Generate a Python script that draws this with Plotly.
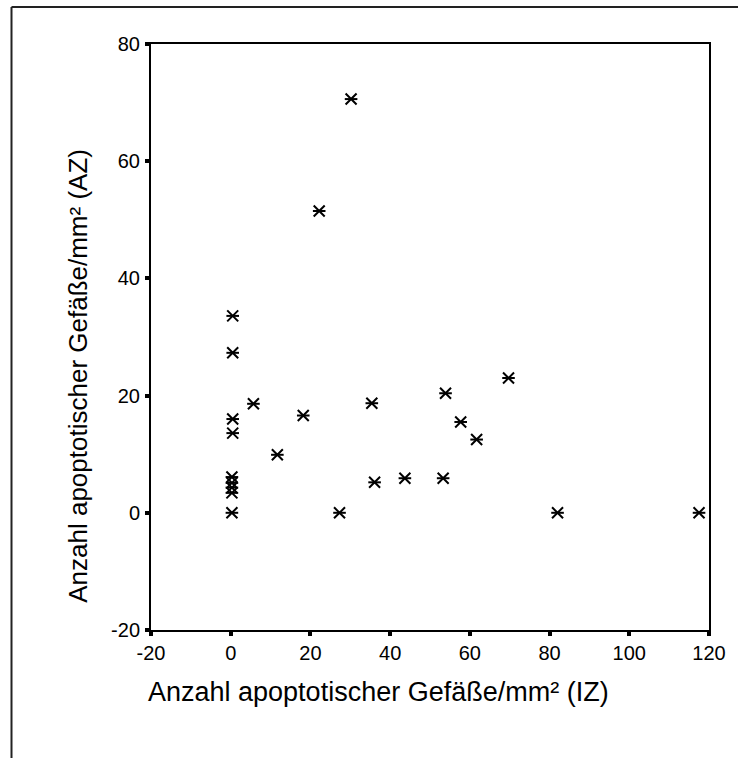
import plotly.graph_objects as go

# Apoptotic vessels per mm²: IZ (x) vs AZ (y)
iz = [30.2, 22.2, 0.5, 0.5, 0.5, 0.5, 5.7, 18.2, 11.7, 35.4, 53.9, 69.7,
      57.7, 61.7, 36.1, 43.7, 53.3, 27.3, 82.0, 117.5,
      0.3, 0.3, 0.3, 0.3, 0.3]
az = [70.6, 51.5, 33.6, 27.3, 16.0, 13.6, 18.6, 16.6, 9.9, 18.7, 20.4, 23.0,
      15.5, 12.5, 5.2, 5.9, 5.9, 0.0, 0.0, 0.0,
      6.1, 5.1, 4.3, 3.4, 0.0]

x_ticks = [-20, 0, 20, 40, 60, 80, 100, 120]
y_ticks = [-20, 0, 20, 40, 60, 80]
x_ticktext = ["-20", "0", "20", "40", "60", "80", "100", "120"]
y_ticktext = ["-20", "0", "20", "40", "60", "80"]

x_title = "Anzahl apoptotischer Gefäße/mm² (IZ)"
y_title = "Anzahl apoptotischer Gefäße/mm² (AZ)"

W, H = 738, 758
ML, MR, MT, MB = 151, 23, 44, 128
PW, PH = W - ML - MR, H - MT - MB

FONT = "Liberation Sans, Arial, sans-serif"

fig = go.Figure()
# six-spoke asterisk markers: an X plus a horizontal stroke of equal reach
for sym, size in [("x-thin-open", 11), ("line-ew", 9)]:
    fig.add_trace(go.Scatter(
        x=iz, y=az, mode="markers", showlegend=False, hoverinfo="x+y",
        marker=dict(symbol=sym, size=size, color="black",
                    line=dict(color="black", width=2)),
    ))

axis_common = dict(
    showgrid=False, zeroline=False, showline=True, mirror=True,
    linecolor="black", linewidth=2, ticks="outside", ticklen=4,
    tickwidth=4, tickcolor="black",
    tickfont=dict(family=FONT, size=20, color="black"),
)
fig.update_xaxes(range=[-20, 120], tickvals=x_ticks, ticktext=x_ticktext,
                 **axis_common)
fig.update_yaxes(range=[-20, 80], tickvals=y_ticks, ticktext=y_ticktext,
                 ticklabelstandoff=1, **axis_common)

def px_to_paper_x(px):
    return (px - ML) / PW

def px_to_paper_y(py):
    return (H - MB - py) / PH

# outer frame (top and left edges)
fx0, fy0 = px_to_paper_x(10), px_to_paper_y(7)
fig.add_shape(type="line", xref="paper", yref="paper",
              x0=fx0, y0=fy0, x1=px_to_paper_x(760), y1=fy0,
              line=dict(color="#222", width=2))
fig.add_shape(type="line", xref="paper", yref="paper",
              x0=fx0, y0=fy0, x1=fx0, y1=px_to_paper_y(780),
              line=dict(color="#222", width=2))

fig.add_annotation(text=x_title, xref="paper", yref="paper",
                   x=px_to_paper_x(381), y=px_to_paper_y(692),
                   showarrow=False, xanchor="center", yanchor="middle",
                   font=dict(family=FONT, size=27, color="black"))
fig.add_annotation(text=y_title, xref="paper", yref="paper",
                   x=px_to_paper_x(77), y=px_to_paper_y(376), textangle=-90,
                   showarrow=False, xanchor="center", yanchor="middle",
                   font=dict(family=FONT, size=26, color="black"))

fig.update_layout(
    width=W, height=H,
    margin=dict(l=ML, r=MR, t=MT, b=MB),
    paper_bgcolor="white", plot_bgcolor="white",
)

fig.write_html("out.html")
